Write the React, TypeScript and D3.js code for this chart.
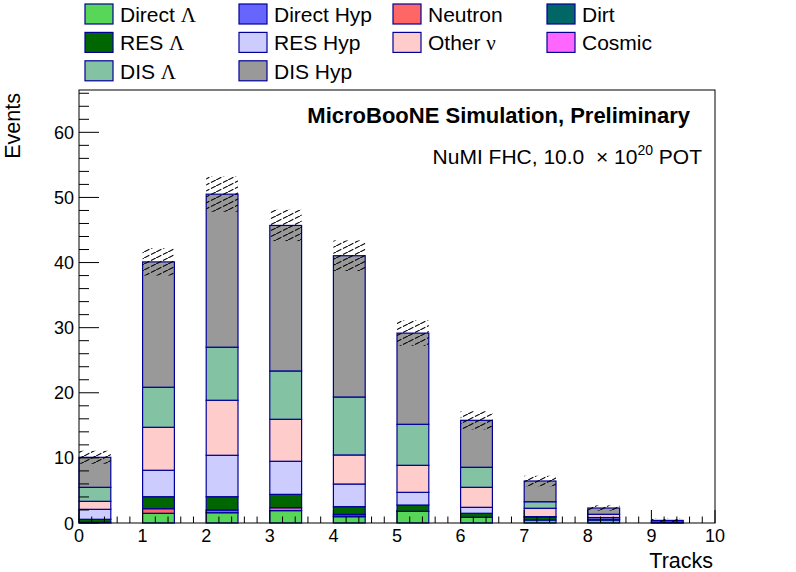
import { useRef, useEffect } from "react";
import * as d3 from "d3";

// bin low edges (Tracks)
const bins = [0, 1, 2, 3, 4, 5, 6, 7, 8, 9];

// stacked components, bottom to top
const directLambda = [0.1, 1.49, 1.58, 1.9, 0.97, 1.8, 0.88, 0.46, 0.46, 0.05];
const directHyp = [0, 0, 0.42, 0, 0.1, 0, 0, 0, 0.12, 0.1];
const neutron = [0, 0.71, 0, 0.45, 0.25, 0, 0, 0, 0, 0];
const resLambda = [0.47, 1.84, 2.04, 2.05, 1.19, 0.96, 0.61, 0.42, 0, 0];
const resHyp = [1.53, 4.06, 6.36, 5.08, 3.48, 1.95, 0.92, 0.1, 0.26, 0];
const otherNu = [1.23, 6.6, 8.45, 6.45, 4.46, 4.15, 3.07, 1.28, 0.5, 0];
const disLambda = [2.15, 6.15, 8.15, 7.42, 8.9, 6.3, 3.08, 1.01, 0, 0];
const disHyp = [4.61, 19.25, 23.5, 22.35, 21.7, 14.0, 7.21, 3.18, 0.96, 0.25];
const dirt = [0, 0, 0, 0, 0, 0, 0, 0, 0, 0];
const cosmic = [0, 0, 0, 0, 0, 0, 0, 0, 0, 0];

// stat. error on the total
const totalErr = [1.0, 2.1, 2.7, 2.4, 2.35, 1.95, 1.4, 0.8, 0.4, 0.25];

const xTicks = [0, 1, 2, 3, 4, 5, 6, 7, 8, 9, 10];
const yTicks = [0, 10, 20, 30, 40, 50, 60];

interface Comp {
  name: string;
  greek?: string;
  color: string;
  values: number[];
}

const stack: Comp[] = [
  { name: "Direct ", greek: "Λ", color: "#57d657", values: directLambda },
  { name: "Direct Hyp", color: "#6666ff", values: directHyp },
  { name: "Neutron", color: "#ff6666", values: neutron },
  { name: "RES ", greek: "Λ", color: "#006600", values: resLambda },
  { name: "RES Hyp", color: "#ccccff", values: resHyp },
  { name: "Other ", greek: "ν", color: "#ffcccc", values: otherNu },
  { name: "DIS ", greek: "Λ", color: "#84c2a4", values: disLambda },
  { name: "DIS Hyp", color: "#999999", values: disHyp },
  { name: "Dirt", color: "#006666", values: dirt },
  { name: "Cosmic", color: "#ff66ff", values: cosmic },
];

// legend order as it reads row by row
const legendOrder = [
  "Direct Λ", "Direct Hyp", "Neutron", "Dirt",
  "RES Λ", "RES Hyp", "Other ν", "Cosmic",
  "DIS Λ", "DIS Hyp",
];

export default function App() {
  const svgRef = useRef<SVGSVGElement>(null);

  useEffect(() => {
    if (!svgRef.current) return;
    document.body.style.margin = "0";

    const width = 796;
    const height = 572;
    const left = 79, right = 715, top = 90, bottom = 523;
    const font = "'Liberation Sans', Arial, sans-serif";
    const greekFont = "'Liberation Serif', 'DejaVu Serif', serif";
    const edge = "#000099";

    const svg = d3.select(svgRef.current);
    svg.selectAll("*").remove();
    svg.attr("width", width).attr("height", height).attr("viewBox", `0 0 ${width} ${height}`);

    svg.append("rect").attr("width", width).attr("height", height).attr("fill", "#ffffff");

    const x = d3.scaleLinear().domain([0, 10]).range([left, right]);
    const y = d3.scaleLinear().domain([0, 66.5]).range([bottom, top]);

    // hatch pattern for the error band
    const defs = svg.append("defs");
    const pat = defs
      .append("pattern")
      .attr("id", "hatch")
      .attr("patternUnits", "userSpaceOnUse")
      .attr("width", 12)
      .attr("height", 6);
    pat
      .append("line")
      .attr("x1", 0)
      .attr("y1", 6)
      .attr("x2", 12)
      .attr("y2", 0)
      .attr("stroke", "#000")
      .attr("stroke-width", 1.1)
      .attr("stroke-dasharray", "6 1.8");

    // stacked bars
    const barW = 0.5;
    const totals = bins.map(() => 0);
    const g = svg.append("g");
    stack.forEach((c) => {
      bins.forEach((b, i) => {
        const v = c.values[i];
        if (v <= 0) return;
        const y0 = totals[i];
        const y1 = y0 + v;
        totals[i] = y1;
        g.append("rect")
          .attr("x", x(b))
          .attr("y", y(y1))
          .attr("width", x(b + barW) - x(b))
          .attr("height", y(y0) - y(y1))
          .attr("fill", c.color)
          .attr("stroke", edge)
          .attr("stroke-width", 1.2);
      });
    });

    // error band
    bins.forEach((b, i) => {
      const lo = Math.max(0, totals[i] - totalErr[i]);
      const hi = totals[i] + totalErr[i];
      svg
        .append("rect")
        .attr("x", x(b))
        .attr("y", y(hi))
        .attr("width", x(b + barW) - x(b))
        .attr("height", y(lo) - y(hi))
        .attr("fill", "url(#hatch)");
    });

    // frame
    svg
      .append("rect")
      .attr("x", left)
      .attr("y", top)
      .attr("width", right - left)
      .attr("height", bottom - top)
      .attr("fill", "none")
      .attr("stroke", "#000")
      .attr("stroke-width", 1);

    // x ticks
    const axes = svg.append("g").attr("stroke", "#000").attr("stroke-width", 1);
    d3.range(0, 10.001, 0.2).forEach((t) => {
      const major = Math.abs(t - Math.round(t)) < 1e-6;
      axes
        .append("line")
        .attr("x1", x(t))
        .attr("x2", x(t))
        .attr("y1", bottom)
        .attr("y2", bottom - (major ? 13 : 6.5));
    });
    // y ticks
    d3.range(0, 66.5, 2).forEach((t) => {
      const major = t % 10 === 0;
      axes
        .append("line")
        .attr("x1", left)
        .attr("x2", left + (major ? 20 : 10))
        .attr("y1", y(t))
        .attr("y2", y(t));
    });

    svg
      .append("g")
      .selectAll("text")
      .data(xTicks)
      .join("text")
      .attr("x", (d) => x(d))
      .attr("y", 542)
      .attr("text-anchor", "middle")
      .attr("font-family", font)
      .attr("font-size", 18)
      .text((d) => d);

    svg
      .append("g")
      .selectAll("text")
      .data(yTicks)
      .join("text")
      .attr("x", 74)
      .attr("y", (d) => y(d) + 6.5)
      .attr("text-anchor", "end")
      .attr("font-family", font)
      .attr("font-size", 18)
      .text((d) => d);

    // axis titles
    svg
      .append("text")
      .attr("x", 713)
      .attr("y", 568)
      .attr("text-anchor", "end")
      .attr("font-family", font)
      .attr("font-size", 21.5)
      .text("Tracks");

    svg
      .append("text")
      .attr("transform", "rotate(-90)")
      .attr("x", -93)
      .attr("y", 20)
      .attr("text-anchor", "end")
      .attr("font-family", font)
      .attr("font-size", 21.5)
      .text("Events");

    // labels
    svg
      .append("text")
      .attr("x", 690)
      .attr("y", 123)
      .attr("text-anchor", "end")
      .attr("font-family", font)
      .attr("font-weight", "bold")
      .attr("font-size", 22)
      .text("MicroBooNE Simulation, Preliminary");

    const pot = svg
      .append("text")
      .attr("x", 702)
      .attr("y", 164)
      .attr("text-anchor", "end")
      .attr("font-family", font)
      .attr("font-size", 21)
      .attr("xml:space", "preserve")
      .style("white-space", "pre");
    pot.append("tspan").text("NuMI FHC, 10.0  × 10");
    pot.append("tspan").attr("font-size", 14).attr("dy", -9).text("20");
    pot.append("tspan").attr("dy", 9).text(" POT");

    // legend
    const byLabel = new Map(stack.map((c) => [c.name + (c.greek || ""), c]));
    const leg = svg.append("g");
    legendOrder.forEach((lab, k) => {
      const c = byLabel.get(lab)!;
      const col = k % 4;
      const row = Math.floor(k / 4);
      const bx = 85 + col * 154;
      const by = 4 + row * 28.4;
      leg
        .append("rect")
        .attr("x", bx)
        .attr("y", by)
        .attr("width", 28)
        .attr("height", 20)
        .attr("fill", c.color)
        .attr("stroke", edge)
        .attr("stroke-width", 1.2);
      const t = leg
        .append("text")
        .attr("x", bx + 35)
        .attr("y", by + 18)
        .attr("font-family", font)
        .attr("font-size", 21);
      t.append("tspan").text(c.name);
      if (c.greek) t.append("tspan").attr("font-family", greekFont).text(c.greek);
    });
  }, []);

  return <svg ref={svgRef} style={{ display: "block" }} />;
}
